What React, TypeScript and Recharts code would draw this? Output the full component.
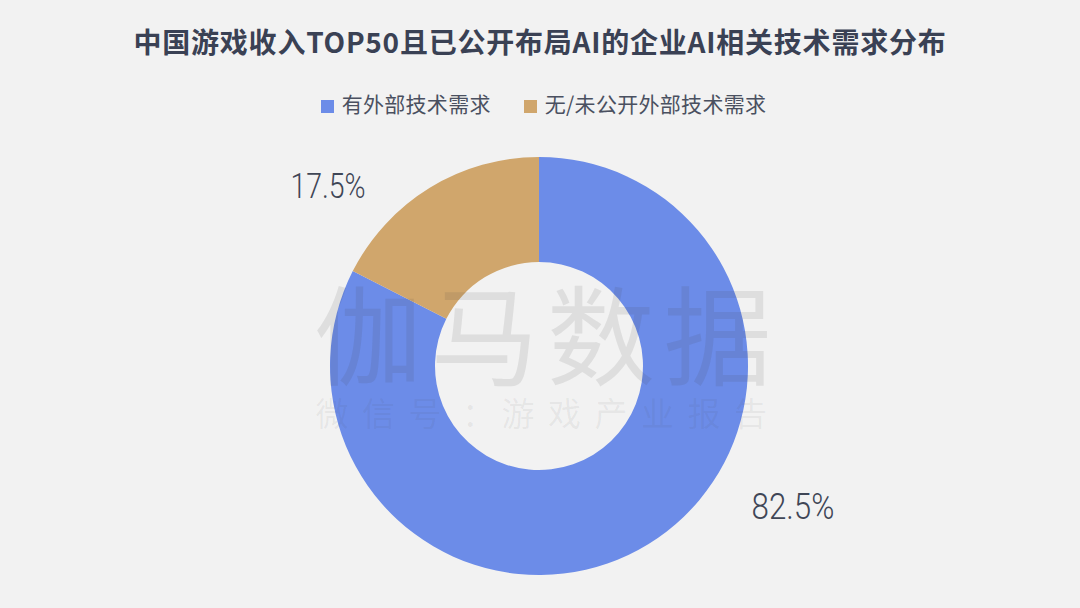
import { PieChart, Pie, Cell, Legend } from "recharts";

const categories = ["有外部技术需求", "无/未公开外部技术需求"];
const shares = [82.5, 17.5];
const colors = ["#6c8ce8", "#d0a66c"];

const data = categories.map((name, i) => ({ name, value: shares[i] }));

const cjk = '"Noto Sans CJK SC", "Noto Sans", sans-serif';

// labels sit off to the side of the ring, not on the slice's mid angle
const labelOffset = [
  { x: 254, y: 141, sx: 0.87 },
  { x: -211, y: -180, sx: 0.79 },
];

function renderLabel(props: any) {
  const { cx, cy, index, value } = props;
  const { x, y, sx } = labelOffset[index];
  return (
    <text
      x={0}
      y={0}
      transform={`translate(${cx + x} ${cy + y}) scale(${sx} 1)`}
      textAnchor="middle"
      dominantBaseline="central"
      fontFamily="Roboto, sans-serif"
      fontWeight={300}
      fontSize={36}
      fill="#3f4656"
    >
      {value.toFixed(1)}%
    </text>
  );
}

const centered = {
  position: "absolute" as const,
  left: 0,
  width: 1080,
  textAlign: "center" as const,
  fontFamily: cjk,
  whiteSpace: "nowrap" as const,
};

export default function App() {
  return (
    <div
      style={{
        position: "fixed",
        left: 0,
        top: 0,
        width: 1080,
        height: 608,
        background: "#f2f2f2",
        overflow: "hidden",
      }}
    >
      <div
        style={{
          ...centered,
          top: 21,
          left: 0,
          fontSize: 28,
          lineHeight: "40px",
          letterSpacing: 0.77,
          fontWeight: 700,
          color: "#3a4154",
        }}
      >
        中国游戏收入TOP50且已公开布局AI的企业AI相关技术需求分布
      </div>
      <PieChart width={1080} height={608} margin={{ top: 0, right: 0, bottom: 0, left: 0 }}>
        <Legend
          verticalAlign="top"
          align="center"
          iconType="square"
          iconSize={13}
          itemSorter={null}
          wrapperStyle={{ top: 88, marginLeft: 20, fontFamily: cjk, fontSize: 21 }}
          formatter={(v: string) => (
            <span style={{ color: "#4a5060", letterSpacing: 0.3, marginLeft: 4, marginRight: 23 }}>{v}</span>
          )}
        />
        <Pie
          data={data}
          dataKey="value"
          nameKey="name"
          cx={539}
          cy={336}
          innerRadius={104}
          outerRadius={209}
          startAngle={90}
          endAngle={-270}
          stroke="none"
          label={renderLabel}
          labelLine={false}
          isAnimationActive={false}
        >
          {data.map((d, i) => (
            <Cell key={d.name} fill={colors[i]} />
          ))}
        </Pie>
      </PieChart>
      <div
        style={{
          ...centered,
          top: 270,
          left: 7,
          fontSize: 108,
          lineHeight: "120px",
          fontWeight: 400,
          letterSpacing: 8.5,
          color: "rgba(60,60,60,0.11)",
        }}
      >
        伽马数据
      </div>
      <div
        style={{
          ...centered,
          top: 390,
          left: 8,
          fontSize: 33,
          lineHeight: "44px",
          letterSpacing: 13.5,
          color: "rgba(60,60,60,0.07)",
        }}
      >
        微信号<span style={{ position: "relative", left: 7 }}>：</span>游戏产业报告
      </div>
    </div>
  );
}
